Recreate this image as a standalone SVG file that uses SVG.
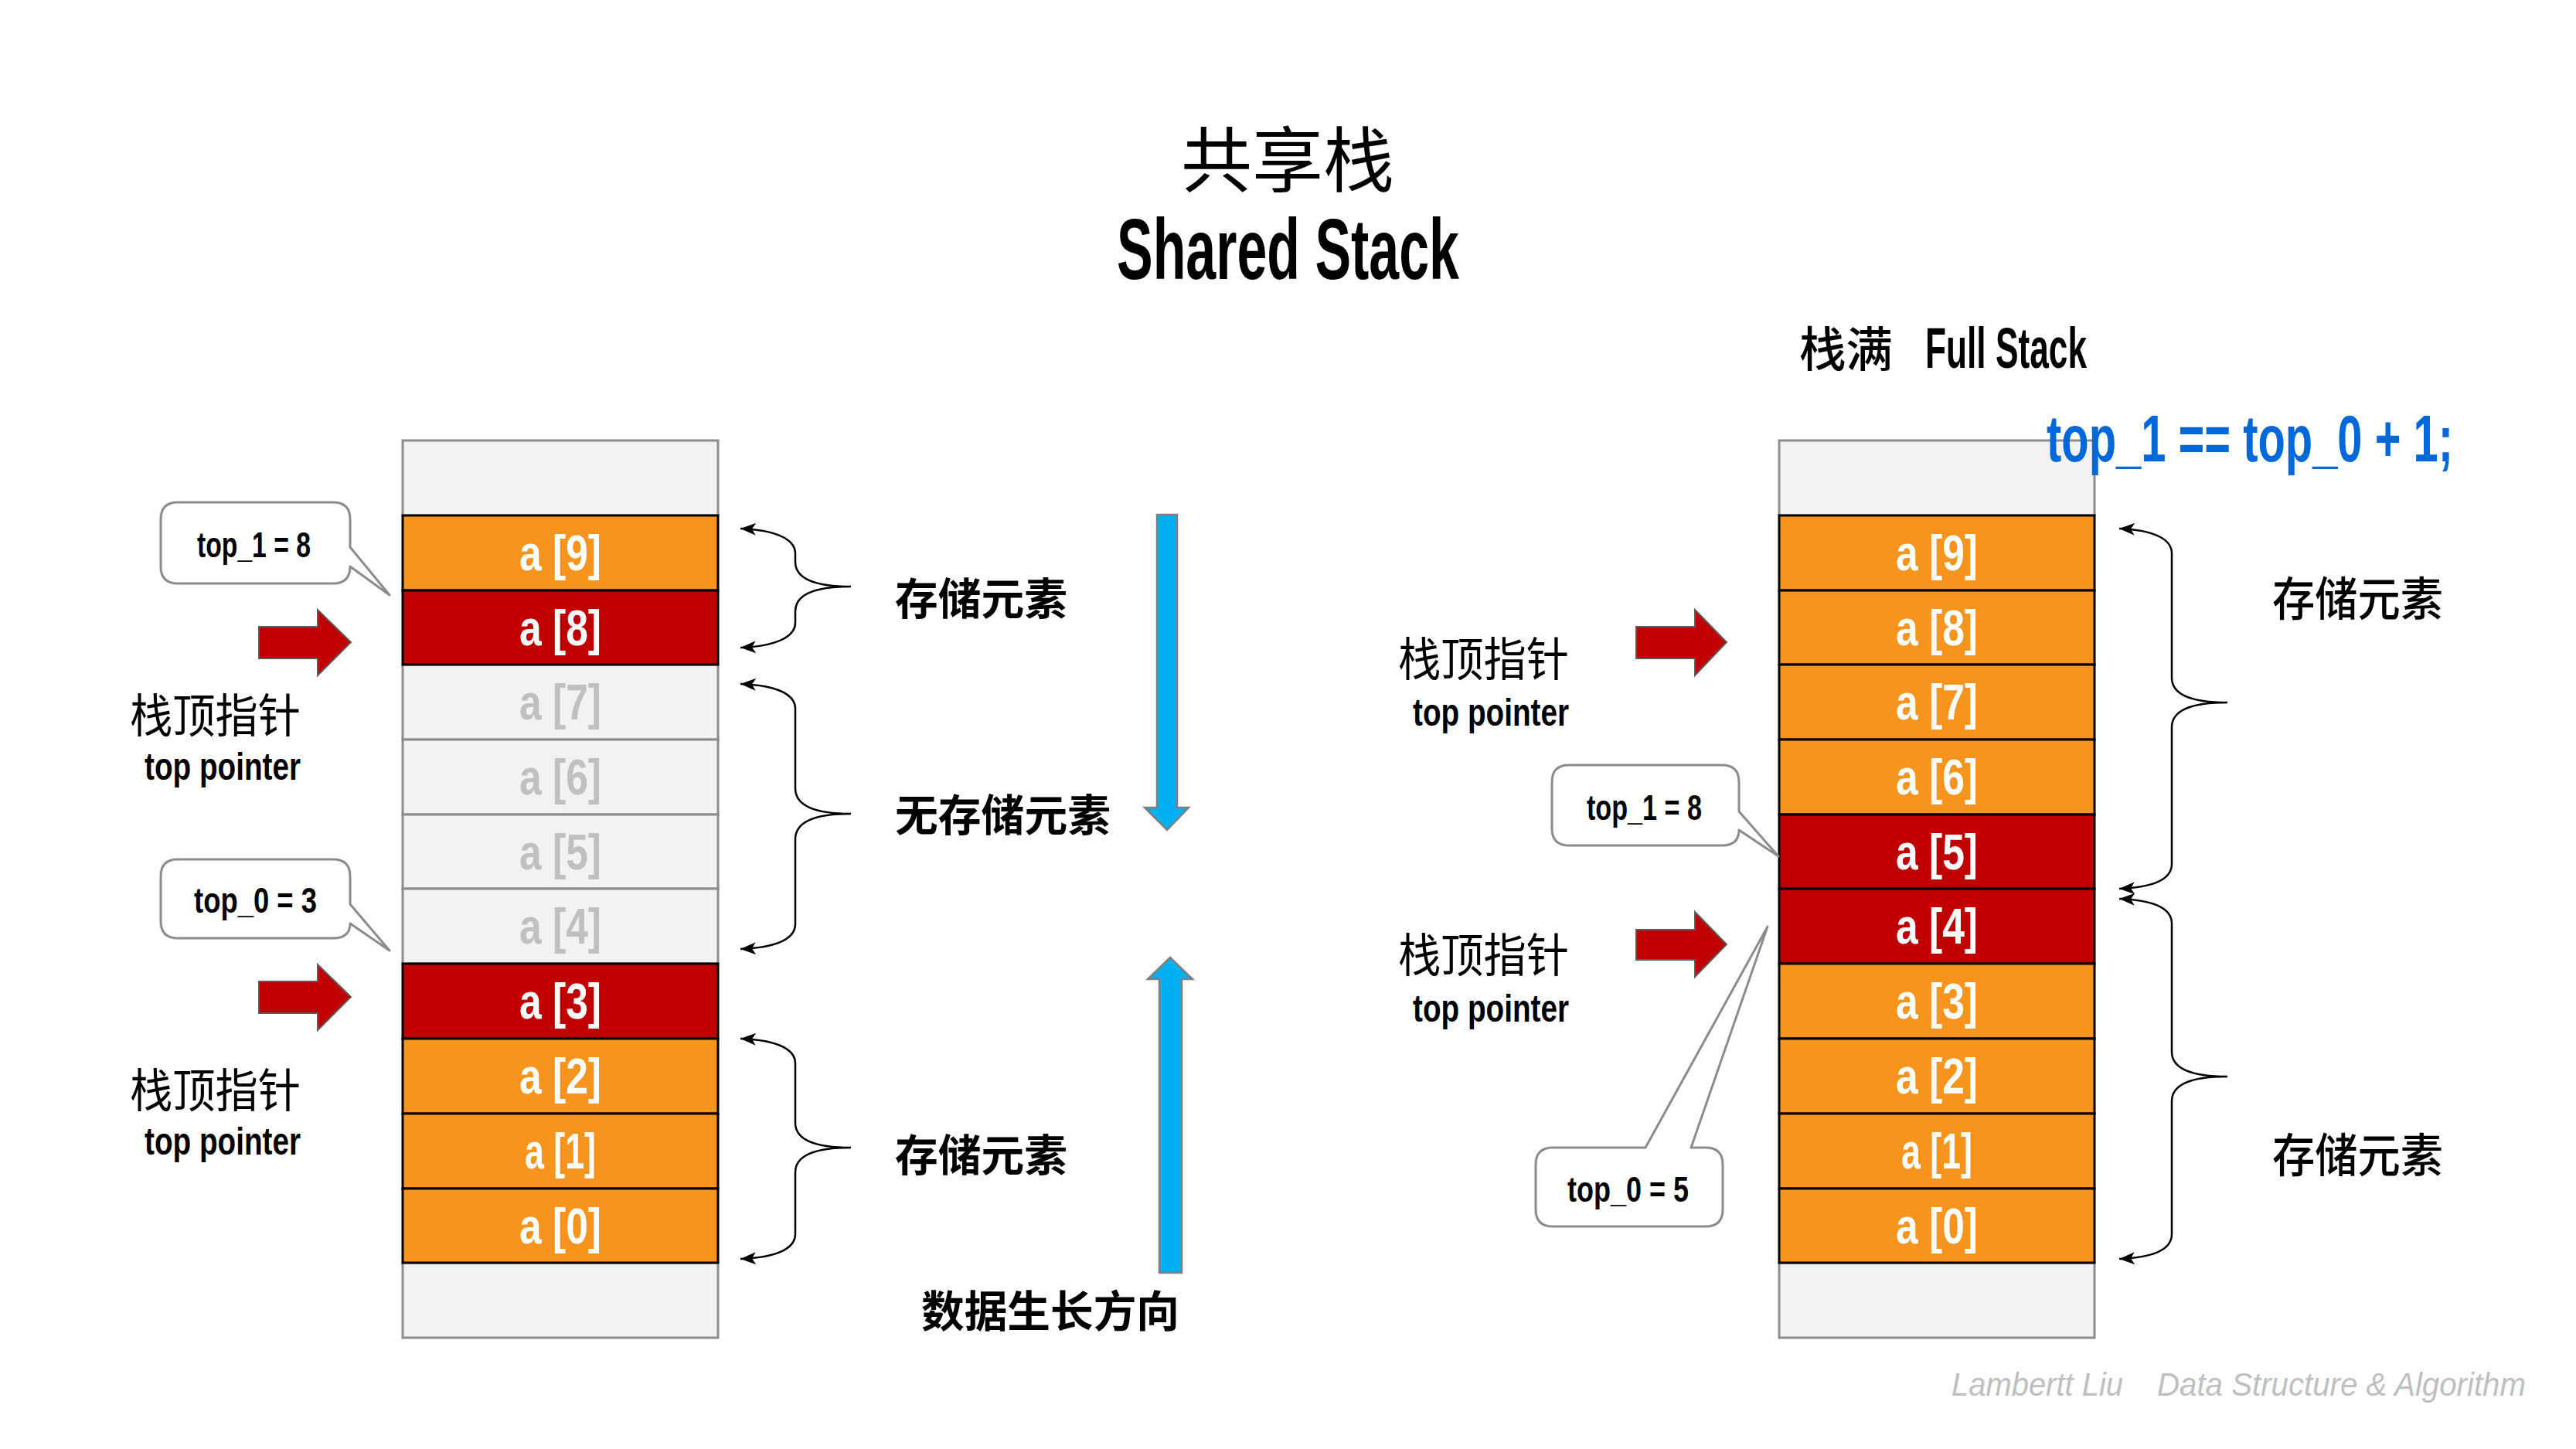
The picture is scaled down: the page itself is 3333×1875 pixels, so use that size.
<svg xmlns="http://www.w3.org/2000/svg" width="3333" height="1875" viewBox="0 0 3333 1875">
<style>
.bg{fill:#ffffff}
.empty{fill:#F2F2F2;stroke:#8C8C8C;stroke-width:3}
.org{fill:#F7941D;stroke:#000000;stroke-width:3}
.red{fill:#C00000;stroke:#000000;stroke-width:3}
.ct{font-family:"Liberation Sans",Arial,sans-serif;font-weight:700;font-size:64px;text-anchor:middle;fill:#ffffff}
.ctg{font-family:"Liberation Sans",Arial,sans-serif;font-weight:700;font-size:64px;text-anchor:middle;fill:#C0C0C0}
.call{fill:#ffffff;stroke:#8C8C8C;stroke-width:3;stroke-linejoin:round}
.callt{font-family:"Liberation Sans",Arial,sans-serif;font-weight:700;font-size:46px;fill:#000000}
.rarrow{fill:#C00000;stroke:#5A5A5A;stroke-width:2}
.barrow{fill:#00B0F0;stroke:#7F7F7F;stroke-width:2.5}
.brace{fill:none;stroke:#000000;stroke-width:2.5;marker-start:url(#ah);marker-end:url(#ah)}
.cjk{font-family:"Noto Sans CJK SC","Noto Sans",sans-serif;fill:#000000}
.en{font-family:"Liberation Sans",Arial,sans-serif;font-weight:700;fill:#000000}
.foot{font-family:"Liberation Sans",Arial,sans-serif;font-style:italic;font-size:42px;fill:#BFBFBF}
</style>
<defs>
<marker id="ah" markerUnits="userSpaceOnUse" markerWidth="26" markerHeight="20" viewBox="-2 -10 26 20" refX="20" refY="0" orient="auto-start-reverse">
<path d="M0,-8 L20,0 L0,8 L5,0 Z" fill="#000000"/>
</marker>
</defs>
<rect class="bg" x="0" y="0" width="3333" height="1875"/>

<g id="title">
<text class="cjk" x="1666" y="241" font-size="92" text-anchor="middle">共享栈</text>
<text class="en" x="1445" y="361" font-size="112" textLength="443" lengthAdjust="spacingAndGlyphs">Shared Stack</text>
</g>

<g id="left-stack">
<rect class="empty" x="521" y="570" width="408" height="97"/>
<rect class="empty" x="521" y="860" width="408" height="97"/>
<rect class="empty" x="521" y="957" width="408" height="97"/>
<rect class="empty" x="521" y="1054" width="408" height="96"/>
<rect class="empty" x="521" y="1150" width="408" height="97"/>
<rect class="empty" x="521" y="1634" width="408" height="97"/>
<rect class="org" x="521" y="667" width="408" height="97"/>
<rect class="red" x="521" y="764" width="408" height="96"/>
<rect class="red" x="521" y="1247" width="408" height="97"/>
<rect class="org" x="521" y="1344" width="408" height="97"/>
<rect class="org" x="521" y="1441" width="408" height="97"/>
<rect class="org" x="521" y="1538" width="408" height="96"/>
<text class="ct" x="725" y="738" textLength="106" lengthAdjust="spacingAndGlyphs">a [9]</text>
<text class="ct" x="725" y="835" textLength="106" lengthAdjust="spacingAndGlyphs">a [8]</text>
<text class="ctg" x="725" y="931" textLength="106" lengthAdjust="spacingAndGlyphs">a [7]</text>
<text class="ctg" x="725" y="1028" textLength="106" lengthAdjust="spacingAndGlyphs">a [6]</text>
<text class="ctg" x="725" y="1125" textLength="106" lengthAdjust="spacingAndGlyphs">a [5]</text>
<text class="ctg" x="725" y="1221" textLength="106" lengthAdjust="spacingAndGlyphs">a [4]</text>
<text class="ct" x="725" y="1318" textLength="106" lengthAdjust="spacingAndGlyphs">a [3]</text>
<text class="ct" x="725" y="1415" textLength="106" lengthAdjust="spacingAndGlyphs">a [2]</text>
<text class="ct" x="725" y="1512" textLength="92" lengthAdjust="spacingAndGlyphs">a [1]</text>
<text class="ct" x="725" y="1609" textLength="106" lengthAdjust="spacingAndGlyphs">a [0]</text>
</g>

<g id="left-callout-top1">
<path class="call" d="M230 650 H431 Q453 650 453 672 V708 L504 770 L453 733 Q453 755 431 755 H230 Q208 755 208 733 V672 Q208 650 230 650 Z"/>
<text class="callt" x="255" y="721" textLength="147" lengthAdjust="spacingAndGlyphs">top_1 = 8</text>
</g>
<g id="left-callout-top0">
<path class="call" d="M230 1112 H431 Q453 1112 453 1134 V1170 L504 1230 L453 1195 Q453 1214 431 1214 H230 Q208 1214 208 1192 V1134 Q208 1112 230 1112 Z"/>
<text class="callt" x="251" y="1181" textLength="159" lengthAdjust="spacingAndGlyphs">top_0 = 3</text>
</g>

<g id="left-pointer1">
<polygon class="rarrow" points="335,811 411,811 411,789 454,831 411,874 411,852 335,852"/>
<text class="cjk" x="168" y="948" font-size="60" textLength="221" lengthAdjust="spacingAndGlyphs">栈顶指针</text>
<text class="en" x="187" y="1009" font-size="50" textLength="202" lengthAdjust="spacingAndGlyphs">top pointer</text>
</g>
<g id="left-pointer0">
<polygon class="rarrow" points="335,1270 411,1270 411,1248 454,1290 411,1333 411,1311 335,1311"/>
<text class="cjk" x="168" y="1433" font-size="60" textLength="221" lengthAdjust="spacingAndGlyphs">栈顶指针</text>
<text class="en" x="187" y="1494" font-size="50" textLength="202" lengthAdjust="spacingAndGlyphs">top pointer</text>
</g>

<g id="connectors">
<path class="brace" d="M958 684 C1009 686 1029 700 1029 716 V727 C1029 749 1054 759 1101 759 C1054 759 1029 769 1029 791 V806 C1029 822 1009 836 958 838"/>
<path class="brace" d="M958 885 C1009 887 1029 900 1029 917 V1020 C1029 1042 1054 1053 1101 1053 C1054 1053 1029 1064 1029 1086 V1196 C1029 1213 1009 1226 958 1228"/>
<path class="brace" d="M958 1344 C1009 1346 1029 1359 1029 1376 V1453 C1029 1475 1054 1485 1101 1485 C1054 1485 1029 1495 1029 1517 V1597 C1029 1614 1009 1627 958 1629"/>
<path class="brace" d="M2742 684 C2792 686 2810 700 2810 716 V877 C2810 899 2835 909 2882 909 C2835 909 2810 919 2810 941 V1118 C2810 1135 2792 1148 2742 1150"/>
<path class="brace" d="M2742 1163 C2792 1165 2810 1178 2810 1195 V1361 C2810 1383 2835 1393 2882 1393 C2835 1393 2810 1403 2810 1425 V1597 C2810 1614 2792 1627 2742 1629"/>
</g>

<g id="mid-labels">
<text class="cjk" x="1158" y="795" font-size="56" font-weight="700" textLength="223" lengthAdjust="spacingAndGlyphs">存储元素</text>
<text class="cjk" x="1158" y="1075" font-size="56" font-weight="700" textLength="279" lengthAdjust="spacingAndGlyphs">无存储元素</text>
<text class="cjk" x="1158" y="1515" font-size="56" font-weight="700" textLength="223" lengthAdjust="spacingAndGlyphs">存储元素</text>
<text class="cjk" x="1192" y="1717" font-size="56" font-weight="700" textLength="334" lengthAdjust="spacingAndGlyphs">数据生长方向</text>
</g>

<g id="growth-arrows">
<polygon class="barrow" points="1497,666 1523,666 1523,1045 1538,1045 1510,1074 1481,1045 1497,1045"/>
<polygon class="barrow" points="1514,1239 1543,1267 1529,1267 1529,1647 1500,1647 1500,1267 1485,1267"/>
</g>

<g id="full-title">
<text class="cjk" x="2328" y="475" font-size="62" font-weight="500" textLength="121" lengthAdjust="spacingAndGlyphs">栈满</text>
<text class="en" x="2491" y="476" font-size="74" textLength="209" lengthAdjust="spacingAndGlyphs">Full Stack</text>
</g>

<g id="right-stack">
<rect class="empty" x="2302" y="570" width="408" height="97"/>
<rect class="empty" x="2302" y="1634" width="408" height="97"/>
<rect class="org" x="2302" y="667" width="408" height="97"/>
<rect class="org" x="2302" y="764" width="408" height="96"/>
<rect class="org" x="2302" y="860" width="408" height="97"/>
<rect class="org" x="2302" y="957" width="408" height="97"/>
<rect class="red" x="2302" y="1054" width="408" height="96"/>
<rect class="red" x="2302" y="1150" width="408" height="97"/>
<rect class="org" x="2302" y="1247" width="408" height="97"/>
<rect class="org" x="2302" y="1344" width="408" height="97"/>
<rect class="org" x="2302" y="1441" width="408" height="97"/>
<rect class="org" x="2302" y="1538" width="408" height="96"/>
<text class="ct" x="2506" y="738" textLength="106" lengthAdjust="spacingAndGlyphs">a [9]</text>
<text class="ct" x="2506" y="835" textLength="106" lengthAdjust="spacingAndGlyphs">a [8]</text>
<text class="ct" x="2506" y="931" textLength="106" lengthAdjust="spacingAndGlyphs">a [7]</text>
<text class="ct" x="2506" y="1028" textLength="106" lengthAdjust="spacingAndGlyphs">a [6]</text>
<text class="ct" x="2506" y="1125" textLength="106" lengthAdjust="spacingAndGlyphs">a [5]</text>
<text class="ct" x="2506" y="1221" textLength="106" lengthAdjust="spacingAndGlyphs">a [4]</text>
<text class="ct" x="2506" y="1318" textLength="106" lengthAdjust="spacingAndGlyphs">a [3]</text>
<text class="ct" x="2506" y="1415" textLength="106" lengthAdjust="spacingAndGlyphs">a [2]</text>
<text class="ct" x="2506" y="1512" textLength="92" lengthAdjust="spacingAndGlyphs">a [1]</text>
<text class="ct" x="2506" y="1609" textLength="106" lengthAdjust="spacingAndGlyphs">a [0]</text>
</g>

<g id="full-condition">
<text x="2648" y="597" font-family="Liberation Sans, Arial, sans-serif" font-weight="700" font-size="85" fill="#0068D9" textLength="526" lengthAdjust="spacingAndGlyphs">top_1 == top_0 + 1;</text>
</g>

<g id="right-pointer1">
<polygon class="rarrow" points="2117,811 2193,811 2193,789 2234,831 2193,874 2193,852 2117,852"/>
<text class="cjk" x="1809" y="875" font-size="60" textLength="221" lengthAdjust="spacingAndGlyphs">栈顶指针</text>
<text class="en" x="1828" y="939" font-size="50" textLength="202" lengthAdjust="spacingAndGlyphs">top pointer</text>
</g>
<g id="right-pointer0">
<polygon class="rarrow" points="2117,1203 2193,1203 2193,1180 2234,1222 2193,1264 2193,1242 2117,1242"/>
<text class="cjk" x="1809" y="1258" font-size="60" textLength="221" lengthAdjust="spacingAndGlyphs">栈顶指针</text>
<text class="en" x="1828" y="1322" font-size="50" textLength="202" lengthAdjust="spacingAndGlyphs">top pointer</text>
</g>

<g id="right-callout-top1">
<path class="call" d="M2030 990 H2228 Q2250 990 2250 1012 V1050 L2301 1108 L2250 1074 Q2250 1094 2228 1094 H2030 Q2008 1094 2008 1072 V1012 Q2008 990 2030 990 Z"/>
<text class="callt" x="2053" y="1061" textLength="149" lengthAdjust="spacingAndGlyphs">top_1 = 8</text>
</g>
<g id="right-callout-top0">
<path class="call" d="M2009 1485 H2129 L2287 1199 L2188 1485 H2207 Q2229 1485 2229 1507 V1565 Q2229 1587 2207 1587 H2009 Q1987 1587 1987 1565 V1507 Q1987 1485 2009 1485 Z"/>
<text class="callt" x="2028" y="1555" textLength="157" lengthAdjust="spacingAndGlyphs">top_0 = 5</text>
</g>

<g id="right-labels">
<text class="cjk" x="2940" y="797" font-size="60" font-weight="500" textLength="221" lengthAdjust="spacingAndGlyphs">存储元素</text>
<text class="cjk" x="2940" y="1517" font-size="60" font-weight="500" textLength="221" lengthAdjust="spacingAndGlyphs">存储元素</text>
</g>

<g id="footer">
<text class="foot" x="2525" y="1806" textLength="222" lengthAdjust="spacingAndGlyphs">Lambertt Liu</text>
<text class="foot" x="2791" y="1806" textLength="477" lengthAdjust="spacingAndGlyphs">Data Structure &amp; Algorithm</text>
</g>
</svg>
